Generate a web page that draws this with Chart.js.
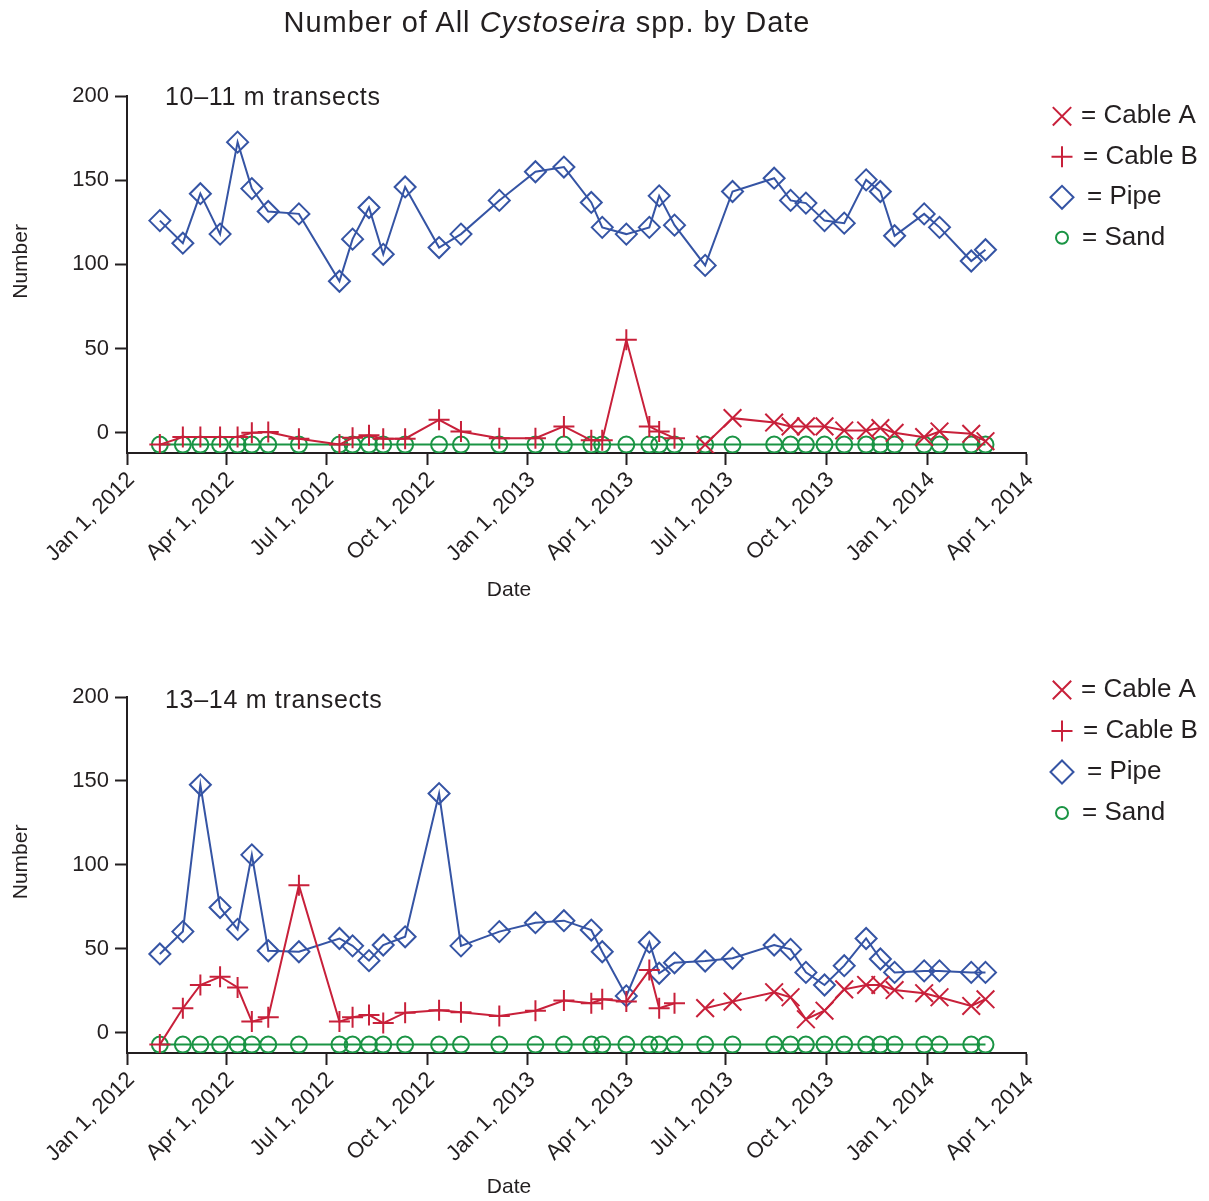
<!DOCTYPE html>
<html>
<head>
<meta charset="utf-8">
<title>Number of All Cystoseira spp. by Date</title>
<script src="https://cdn.jsdelivr.net/npm/chart.js@4.4.1/dist/chart.umd.min.js"></script>
<style>
  body { margin: 0; background: #fff; }
  .page { position: relative; width: 1209px; height: 1201px; font-family: "Liberation Sans", Arial, Helvetica, sans-serif; color: #231f20; }
  .title { position: absolute; left: 0; top: 5px; width: 1094px; text-align: center; font-size: 29px; line-height: 34px; letter-spacing: 1px; z-index: 2; }
  canvas { position: absolute; left: 0; }
  #shallow { top: 0; }
  #deep { top: 600px; }
</style>
</head>
<body>
<div class="page">
  <canvas id="shallow" width="1209" height="600"></canvas>
  <canvas id="deep" width="1209" height="601"></canvas>
  <div class="title">Number of All <i>Cystoseira</i> spp. by Date</div>
</div>
<script>
// sampling dates (shared by both depths)
const sampleDates = ['2012-01-31', '2012-02-21', '2012-03-08', '2012-03-26', '2012-04-11', '2012-04-24', '2012-05-09', '2012-06-06',
    '2012-07-13', '2012-07-25', '2012-08-09', '2012-08-22', '2012-09-11', '2012-10-12', '2012-11-01', '2012-12-06',
    '2013-01-08', '2013-02-03', '2013-02-28', '2013-03-10', '2013-04-01', '2013-04-22', '2013-05-01', '2013-05-15',
    '2013-06-12', '2013-07-07', '2013-08-14', '2013-08-29', '2013-09-12', '2013-09-29', '2013-10-17', '2013-11-06',
    '2013-11-19', '2013-12-02', '2013-12-29', '2014-01-12', '2014-02-10', '2014-02-23'];
const tickDates = ['2012-01-01', '2012-04-01', '2012-07-01', '2012-10-01', '2013-01-01', '2013-04-01', '2013-07-01', '2013-10-01', '2014-01-01', '2014-04-01'];
const tickLabels = ['Jan 1, 2012', 'Apr 1, 2012', 'Jul 1, 2012', 'Oct 1, 2012', 'Jan 1, 2013', 'Apr 1, 2013', 'Jul 1, 2013', 'Oct 1, 2013', 'Jan 1, 2014', 'Apr 1, 2014'];
const yTicks = [0, 50, 100, 150, 200];
const seriesNames = ['Cable A', 'Cable B', 'Pipe', 'Sand'];

// 10–11 m transects
const shallowCableA = [null, null, null, null, null, null, null, null, null, null, null, null, null, null, null, null,
    null, null, null, null, null, null, null, null,
    -7, 8.7, 6.1, 3.8, 3.8, 3.8, 1.4, 1.4, 2.8, 0, -2.6, 0.8, -0.6, -5];
const shallowCableB = [-7, -2.5, -2.5, -2.5, -2.5, 0, 0.5, -3.5, -7, -3, -1.5, -3.5, -3.5, 7.7, 0.8, -3.2,
    -3.2, 3.8, -4.5, -4.5, 55.2, 3.8, 0.8, -3.2,
    null, null, null, null, null, null, null, null, null, null, null, null, null, null];
const shallowPipe = [126, 112.6, 142, 118, 172.6, 145, 131.4, 130, 90, 115, 133.8, 106, 146, 110, 118, 138,
    155, 157.8, 136.8, 122, 118, 122, 140.7, 123.3,
    99.4, 143.3, 151.2, 138, 136.4, 126, 124.5, 150.2, 143.3, 117, 130, 122, 102, 108.7];
const shallowSand = [-7, -7, -7, -7, -7, -7, -7, -7, -7, -7, -7, -7, -7, -7, -7, -7,
    -7, -7, -7, -7, -7, -7, -7, -7,
    -7, -7, -7, -7, -7, -7, -7, -7, -7, -7, -7, -7, -7, -7];

// 13–14 m transects
const deepCableA = [null, null, null, null, null, null, null, null, null, null, null, null, null, null, null, null,
    null, null, null, null, null, null, null, null,
    14.7, 18.6, 24.2, 21.2, 8.1, 13.2, 25.9, 28.5, 28.5, 25.5, 23.6, 21.2, 16, 20];
const deepCableB = [-7, 14.6, 28.5, 33.4, 27, 6.7, 9.3, 87.9, 6.7, 9.3, 10.7, 5.8, 12, 13.5, 12.3, 10.1,
    13.2, 19.2, 17.6, 20, 18.6, 37.4, 14.7, 17.6,
    null, null, null, null, null, null, null, null, null, null, null, null, null, null];
const deepPipe = [47, 60.3, 147.7, 74.6, 61.6, 106, 48.9, 48.3, 56.2, 51.8, 43, 52.3, 57.2, 142.5, 51.8, 60.3,
    65.6, 66.8, 61.2, 48.3, 22, 54, 35.5, 41.7,
    42.8, 44.4, 52.3, 49.7, 36, 28.5, 40, 56.2, 44, 36, 36.9, 36.9, 36, 36];
const deepSand = [-7, -7, -7, -7, -7, -7, -7, -7, -7, -7, -7, -7, -7, -7, -7, -7,
    -7, -7, -7, -7, -7, -7, -7, -7,
    -7, -7, -7, -7, -7, -7, -7, -7, -7, -7, -7, -7, -7, -7];

const ink = '#231f20';
const red = '#c8203a';
const blue = '#3554a4';
const green = '#1a9444';
const fontFamily = '"Liberation Sans", Arial, Helvetica, sans-serif';

Chart.defaults.font.family = fontFamily;
Chart.defaults.color = ink;

// days since Jan 1, 2012
const dayOf = (s) => {
    const [y, m, d] = s.split('-').map(Number);
    return (Date.UTC(y, m - 1, d) - Date.UTC(2012, 0, 1)) / 864e5;
};
const toPoints = (vals) => sampleDates.map((d, i) => ({ x: dayOf(d), y: vals[i] }));

// marker look per series: Cable A, Cable B, Pipe, Sand
const marks = [
    { style: 'crossRot', r: 12.5, legendR: 13, color: red, textX: 1081 },
    { style: 'cross', r: 10.5, legendR: 10.5, color: red, textX: 1083 },
    { style: 'rectRot', r: 10.5, legendR: 11.5, color: blue, textX: 1087 },
    { style: 'circle', r: 8, legendR: 6, color: green, textX: 1082 }
];

function drawMark(ctx, style, r, x, y) {
    if (Chart.helpers && Chart.helpers.drawPoint) {
        Chart.helpers.drawPoint(ctx, { pointStyle: style, radius: r, borderWidth: 2, rotation: 0 }, x, y);
        return;
    }
    ctx.beginPath();
    if (style === 'circle') ctx.arc(x, y, r, 0, Math.PI * 2);
    if (style === 'cross') { ctx.moveTo(x - r, y); ctx.lineTo(x + r, y); ctx.moveTo(x, y - r); ctx.lineTo(x, y + r); }
    if (style === 'crossRot') {
        const o = r * Math.SQRT1_2;
        ctx.moveTo(x - o, y - o); ctx.lineTo(x + o, y + o); ctx.moveTo(x + o, y - o); ctx.lineTo(x - o, y + o);
    }
    if (style === 'rectRot') { ctx.moveTo(x - r, y); ctx.lineTo(x, y - r); ctx.lineTo(x + r, y); ctx.lineTo(x, y + r); ctx.closePath(); }
    ctx.stroke();
}

// panel label, axis titles and the marker legend on the right
const decor = {
    id: 'decor',
    afterDraw(chart, args, opts) {
        const ctx = chart.ctx;
        const area = chart.chartArea;
        ctx.save();
        ctx.fillStyle = ink;
        ctx.textBaseline = 'middle';
        ctx.textAlign = 'left';
        ctx.font = '25px ' + fontFamily;
        if ('letterSpacing' in ctx) ctx.letterSpacing = '0.7px';
        ctx.fillText(opts.label, area.left + 38, area.top + opts.labelDy);
        if ('letterSpacing' in ctx) ctx.letterSpacing = '0px';

        ctx.font = '21px ' + fontFamily;
        ctx.textAlign = 'center';
        ctx.fillText('Date', 509, area.bottom + opts.dateDy);

        ctx.save();
        ctx.translate(21, chart.scales.y.getPixelForValue(100) - 3);
        ctx.rotate(-Math.PI / 2);
        ctx.fillText('Number', 0, 0);
        ctx.restore();

        ctx.textAlign = 'left';
        seriesNames.forEach((name, i) => {
            const rowY = opts.legendTop + i * opts.legendStep;
            const m = marks[i];
            ctx.lineWidth = 2;
            ctx.strokeStyle = m.color;
            ctx.fillStyle = 'rgba(0,0,0,0)';
            drawMark(ctx, m.style, m.legendR, 1062, rowY);
            ctx.fillStyle = ink;
            ctx.font = '26px ' + fontFamily;
            ctx.fillText('= ' + name, m.textX, rowY);
        });
        ctx.restore();
    }
};

function makePanel(canvasId, series, cfg) {
    const datasets = series.map((vals, i) => ({
        label: seriesNames[i],
        data: toPoints(vals),
        borderColor: marks[i].color,
        backgroundColor: 'transparent',
        borderWidth: 2,
        tension: 0,
        spanGaps: false,
        pointStyle: marks[i].style,
        pointRadius: marks[i].r,
        pointBorderWidth: 2,
        pointBorderColor: marks[i].color,
        pointBackgroundColor: 'transparent'
    }));
    const axisGrid = { drawOnChartArea: false, drawTicks: true, tickLength: 12, tickWidth: 2, tickColor: ink };
    const axisBorder = { display: true, color: ink, width: 2 };
    return new Chart(document.getElementById(canvasId), {
        type: 'line',
        data: { datasets: datasets },
        options: {
            responsive: false,
            animation: false,
            events: [],
            layout: { padding: { top: cfg.top, right: 183, bottom: 0, left: 0 } },
            scales: {
                x: {
                    type: 'linear',
                    min: 0,
                    max: dayOf('2014-04-01'),
                    afterBuildTicks: (s) => { s.ticks = tickDates.map((d) => ({ value: dayOf(d) })); },
                    afterFit: (s) => { s.height = cfg.xHeight; },
                    grid: axisGrid,
                    border: axisBorder,
                    ticks: {
                        autoSkip: false,
                        minRotation: 45,
                        maxRotation: 45,
                        padding: 2,
                        labelOffset: 4,
                        color: ink,
                        font: { size: 22 },
                        callback: (v, i) => tickLabels[i]
                    },
                    title: { display: false }
                },
                y: {
                    type: 'linear',
                    min: -12,
                    max: 200,
                    afterBuildTicks: (s) => { s.ticks = yTicks.map((v) => ({ value: v })); },
                    afterFit: (s) => { s.width = 127; },
                    grid: axisGrid,
                    border: axisBorder,
                    ticks: { padding: 6, color: ink, font: { size: 22 } }
                }
            },
            plugins: {
                legend: { display: false },
                tooltip: { enabled: false },
                decor: { label: cfg.label, labelDy: cfg.labelDy, dateDy: cfg.dateDy, legendTop: cfg.legendTop, legendStep: cfg.legendStep }
            }
        },
        plugins: [decor]
    });
}

makePanel('shallow', [shallowCableA, shallowCableB, shallowPipe, shallowSand],
    { top: 96, xHeight: 147, dateDy: 137, label: '10–11 m transects', labelDy: 2, legendTop: 116.3, legendStep: 40.5 });
makePanel('deep', [deepCableA, deepCableB, deepPipe, deepSand],
    { top: 97, xHeight: 148, dateDy: 134, label: '13–14 m transects', labelDy: 4, legendTop: 90, legendStep: 41 });
</script>
</body>
</html>
